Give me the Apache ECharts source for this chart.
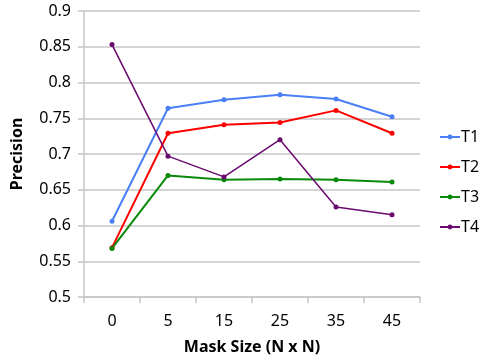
<!DOCTYPE html>
<html>
<head>
<meta charset="utf-8">
<script src="https://cdn.jsdelivr.net/npm/echarts@6/dist/echarts.min.js"></script>
<style>
html, body { margin: 0; padding: 0; background: #fff; }
#main { width: 482px; height: 362px; }
</style>
</head>
<body>
<div id="main"></div>
<script>
var maskSizes = ['0', '5', '15', '25', '35', '45'];
var t1 = [0.606, 0.764, 0.776, 0.783, 0.777, 0.752];
var t2 = [0.569, 0.729, 0.741, 0.744, 0.761, 0.729];
var t3 = [0.568, 0.670, 0.664, 0.665, 0.664, 0.661];
var t4 = [0.853, 0.697, 0.668, 0.720, 0.626, 0.615];

var myChart = echarts.init(document.getElementById('main'));

function line(name, data, color, width) {
    return {
        name: name,
        type: 'line',
        data: data,
        symbol: 'circle',
        symbolSize: 5,
        itemStyle: { color: color },
        lineStyle: { color: color, width: width },
        animation: false
    };
}

var option = {
    textStyle: { fontFamily: 'Noto Sans' },
    grid: { left: 84, right: 62, top: 11, bottom: 65 },
    legend: {
        orient: 'vertical',
        left: 434,
        top: 124,
        itemWidth: 20,
        itemHeight: 6,
        itemGap: 14,
        textStyle: { fontSize: 16, color: '#000', padding: [0, 0, 0, -4] },
        data: ['T1', 'T2', 'T3', 'T4']
    },
    xAxis: {
        type: 'category',
        data: maskSizes,
        name: 'Mask Size (N x N)',
        nameLocation: 'middle',
        nameGap: 42,
        nameTextStyle: { fontSize: 16, fontWeight: 'bold', color: '#000' },
        axisLine: { lineStyle: { color: '#c6c6c6', width: 1.5 } },
        axisTick: { show: true, length: 6, lineStyle: { color: '#c6c6c6', width: 1.5 } },
        axisLabel: { fontSize: 16, color: '#000', margin: 16 }
    },
    yAxis: {
        type: 'value',
        min: 0.5,
        max: 0.9,
        interval: 0.05,
        name: 'Precision',
        nameLocation: 'middle',
        nameGap: 59,
        nameTextStyle: { fontSize: 16, fontWeight: 'bold', color: '#000' },
        axisLine: { show: true, lineStyle: { color: '#c6c6c6', width: 1.5 } },
        axisTick: { show: true, length: 6, lineStyle: { color: '#c6c6c6', width: 1.5 } },
        splitLine: { lineStyle: { color: '#c6c6c6', width: 1.5 } },
        axisLabel: {
            fontSize: 16,
            color: '#000',
            margin: 13,
            formatter: function (v) { return String(parseFloat(v.toFixed(2))); }
        }
    },
    series: [
        line('T1', t1, '#4a7ff5', 2),
        line('T2', t2, '#ff0000', 2),
        line('T3', t3, '#0a8a0a', 2),
        line('T4', t4, '#6a0a6e', 1.5)
    ]
};
myChart.setOption(option);
</script>
</body>
</html>
